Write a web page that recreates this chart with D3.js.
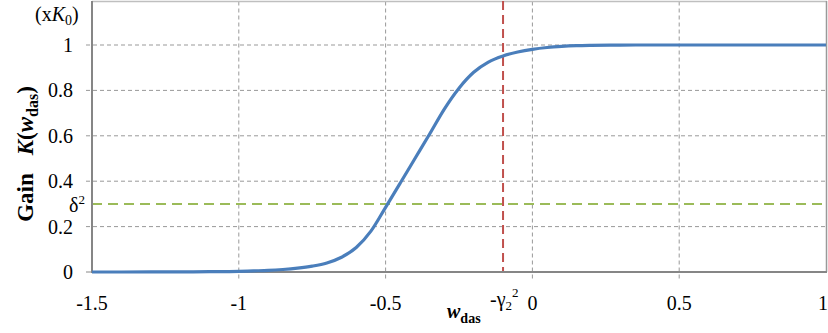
<!DOCTYPE html>
<html><head><meta charset="utf-8">
<script src="https://cdn.jsdelivr.net/npm/d3@7/dist/d3.min.js"></script>
<style>body{margin:0;background:#fff}svg{display:block}</style>
</head><body><svg id="c" width="828" height="333" font-family="'Liberation Serif','Times New Roman',serif"></svg>
<script>
const wVals = [-1.5,-1.3,-1.2,-1.1,-1.0,-0.95,-0.9,-0.85,-0.8,-0.75,-0.7,-0.65,-0.6,-0.55,-0.5,-0.45,-0.4,-0.35,-0.3,-0.25,-0.2,-0.15,-0.1,-0.05,0,0.05,0.1,0.15,0.2,0.3,0.4,0.6,1.0];
const kVals = [0,0.0003,0.0007,0.0015,0.003,0.005,0.007,0.011,0.017,0.026,0.04,0.065,0.108,0.18,0.285,0.392,0.5,0.608,0.718,0.81,0.88,0.925,0.952,0.969,0.981,0.989,0.994,0.997,0.9985,0.9997,1.0,1.0,1.0];
const xTicks = [-1.5,-1,-0.5,0,0.5,1];
const yTicks = [0,0.2,0.4,0.6,0.8,1];
const deltaSq = 0.3;
const gammaSq = -0.1;

const svg = d3.select("#c");
const x = d3.scaleLinear().domain([-1.5,1]).range([92,826]);
const y = d3.scaleLinear().domain([0,1.2]).range([272,-0.4]);

// gridlines
svg.append("g").selectAll("line").data(yTicks.filter(d=>d>0)).join("line")
  .attr("x1",86).attr("x2",826).attr("y1",d=>y(d)).attr("y2",d=>y(d))
  .attr("stroke","#999").attr("stroke-width",1).attr("stroke-dasharray","4,3");
svg.append("g").selectAll("line").data(xTicks.filter(d=>d>-1.5&&d<1)).join("line")
  .attr("x1",d=>x(d)).attr("x2",d=>x(d)).attr("y1",1.5).attr("y2",279)
  .attr("stroke","#999").attr("stroke-width",1).attr("stroke-dasharray","4,3");
svg.append("line").attr("x1",86).attr("x2",92).attr("y1",y(0)).attr("y2",y(0)).attr("stroke","#888").attr("stroke-width",1);

// border
svg.append("line").attr("x1",92).attr("x2",827).attr("y1",1.5).attr("y2",1.5).attr("stroke","#bfbfbf").attr("stroke-width",1.5);
svg.append("line").attr("x1",826.5).attr("x2",826.5).attr("y1",1).attr("y2",272).attr("stroke","#999").attr("stroke-width",1.5);

// delta line
svg.append("line").attr("x1",x(-1.5)).attr("x2",x(1)).attr("y1",y(deltaSq)).attr("y2",y(deltaSq))
  .attr("stroke","#9BBB59").attr("stroke-width",2).attr("stroke-dasharray","10,6");
// gamma line
svg.append("line").attr("x1",x(gammaSq)).attr("x2",x(gammaSq)).attr("y1",1).attr("y2",272)
  .attr("stroke","#C0504D").attr("stroke-width",2).attr("stroke-dasharray","9,5");

// axes lines
svg.append("line").attr("x1",92).attr("x2",92).attr("y1",1).attr("y2",273).attr("stroke","#868686").attr("stroke-width",2);
svg.append("line").attr("x1",91).attr("x2",827).attr("y1",272).attr("y2",272).attr("stroke","#868686").attr("stroke-width",2);

// curve
const data = wVals.map((w,i)=>[w,kVals[i]]);
svg.append("path").datum(data)
  .attr("d",d3.line().x(d=>x(d[0])).y(d=>y(d[1])).curve(d3.curveMonotoneX))
  .attr("fill","none").attr("stroke","#4A7EBB").attr("stroke-width",3.2);

// y tick labels
svg.append("g").selectAll("text").data(yTicks).join("text")
  .attr("x",73).attr("y",d=>y(d)+7).attr("text-anchor","end").attr("font-size",20)
  .text(d=>d.toString());
// x tick labels
svg.append("g").selectAll("text").data(xTicks).join("text")
  .attr("x",d=>d===1?828:x(d)).attr("y",310).attr("text-anchor",d=>d===1?"end":"middle").attr("font-size",20)
  .text(d=>d.toString());

// delta label
const dl = svg.append("text").attr("x",85).attr("y",212).attr("text-anchor","end").attr("font-size",20);
dl.append("tspan").text("δ");
dl.append("tspan").attr("font-size",13).attr("dy",-8).text("2");

// gamma label
const gl = svg.append("text").attr("x",490).attr("y",306).attr("font-size",20);
gl.append("tspan").text("-γ");
gl.append("tspan").attr("font-size",13).attr("dy",4).text("2");
gl.append("tspan").attr("font-size",13).attr("dy",-13).text("2");

// x axis title
const xt = svg.append("text").attr("x",447).attr("y",318).attr("font-size",20).attr("font-weight","bold");
xt.append("tspan").attr("font-style","italic").text("w");
xt.append("tspan").attr("font-size",14).attr("dy",5).text("das");

// unit label
const ul = svg.append("text").attr("x",35).attr("y",21).attr("font-size",20);
ul.append("tspan").text("(x");
ul.append("tspan").attr("font-style","italic").text("K");
ul.append("tspan").attr("font-size",14).attr("dy",4).text("0");
ul.append("tspan").attr("dy",-4).text(")");

// y axis title
const yt = svg.append("text").attr("transform","translate(33,154) rotate(-90)").attr("text-anchor","middle")
  .attr("font-size",23).attr("font-weight","bold");
yt.append("tspan").text("Gain");
yt.append("tspan").attr("dx",18).attr("font-style","italic").text("K");
yt.append("tspan").text("(");
yt.append("tspan").attr("font-style","italic").text("w");
yt.append("tspan").attr("font-size",16).attr("dy",5).text("das");
yt.append("tspan").attr("dy",-5).text(")");
</script></body></html>
